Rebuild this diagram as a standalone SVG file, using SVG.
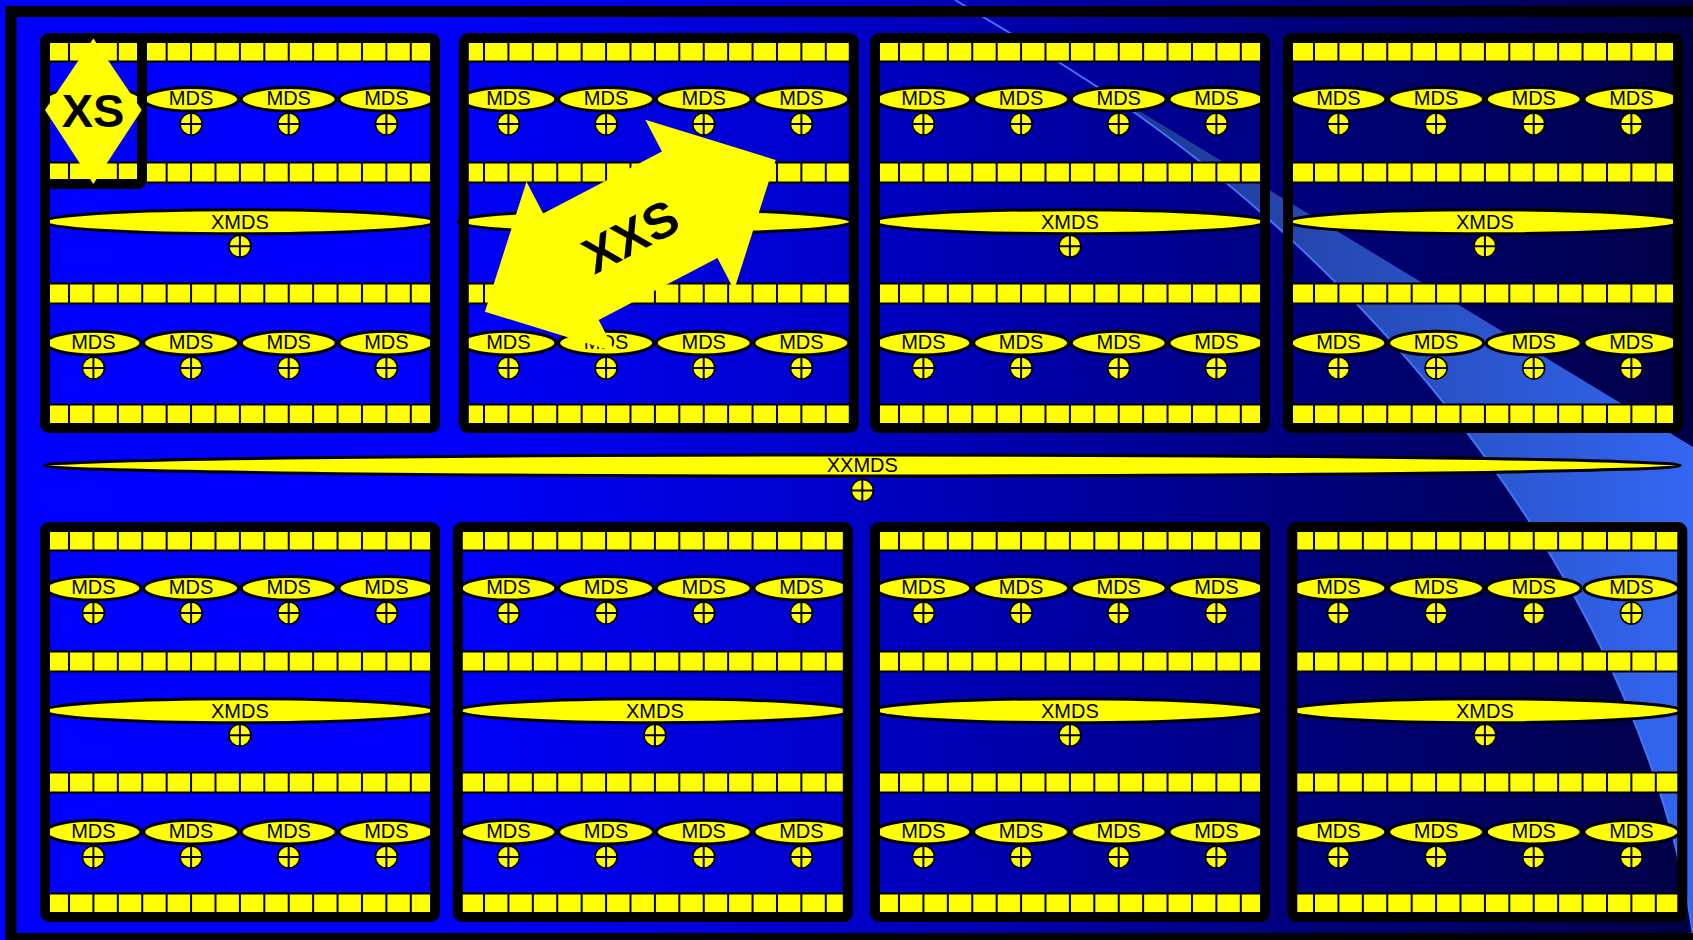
<svg xmlns="http://www.w3.org/2000/svg" xmlns:xlink="http://www.w3.org/1999/xlink" width="1693" height="940" viewBox="0 0 1693 940">
<defs>
<linearGradient id="bg" gradientUnits="userSpaceOnUse" x1="0" y1="0" x2="1693" y2="0">
<stop offset="0" stop-color="#0000FF"/><stop offset="0.27" stop-color="#0000FA"/><stop offset="0.5" stop-color="#0000C8"/><stop offset="0.75" stop-color="#000080"/><stop offset="1" stop-color="#000045"/>
</linearGradient>
<linearGradient id="band" gradientUnits="userSpaceOnUse" x1="1150" y1="0" x2="1693" y2="0">
<stop offset="0" stop-color="#1F3A95"/><stop offset="1" stop-color="#3366F2"/>
</linearGradient>
<pattern id="sq" patternUnits="userSpaceOnUse" x="44.6" y="0" width="24.412" height="940">
<rect width="24.412" height="940" fill="#FFFF00"/><rect x="0" width="1" height="940" fill="#000"/><rect x="23.412" width="1" height="940" fill="#000"/>
</pattern>
<style>
.strip{fill:url(#sq);stroke:#000;stroke-width:2}
.mds{fill:#FFFF00;stroke:#000;stroke-width:3}
.border{fill:none;stroke:#000;stroke-width:10}
.t{font-family:"Liberation Sans",Arial,sans-serif;font-size:20px;text-anchor:middle;fill:#000}
.b{font-family:"Liberation Sans",Arial,sans-serif;font-weight:bold;text-anchor:middle;fill:#000}
.crc{fill:#FFFF00;stroke:#000;stroke-width:1.5}
.crl{stroke:#000;stroke-width:2;fill:none}
</style>
<ellipse id="me" rx="47.5" ry="11.8" class="mds"/>
<ellipse id="xe" rx="197" ry="12" class="mds"/>
<g id="cr"><circle r="11" class="crc"/><path d="M0,-11.5V11.5M-11,0H11" class="crl"/></g>
</defs>

<g id="background">
<rect width="1693" height="940" fill="url(#bg)"/>
<path d="M1060,63 C1400,275 1648,618 1693,935 L1693,447 Z" fill="url(#band)"/>
<path d="M955,0 L1060,63 C1400,275 1648,618 1693,935" fill="none" stroke="#4076FF" stroke-width="2"/>
<rect x="11" y="11.5" width="1710" height="927" fill="none" stroke="#000" stroke-width="11"/>
</g>

<g id="connectors"/>

<g id="module-1">
<rect class="strip" x="45" y="41.5" width="390" height="20"/><rect class="strip" x="45" y="162.5" width="390" height="20"/><rect class="strip" x="45" y="283.5" width="390" height="20"/><rect class="strip" x="45" y="404.5" width="390" height="20"/>
<use href="#me" x="93.4" y="99.3"/><use href="#me" x="191.1" y="99.3"/><use href="#me" x="288.7" y="99.3"/><use href="#me" x="386.4" y="99.3"/>
<text class="t" x="191.1" y="105.3">MDS</text><text class="t" x="288.7" y="105.3">MDS</text><text class="t" x="386.4" y="105.3">MDS</text>
<use href="#cr" x="93.4" y="124.1"/><use href="#cr" x="191.1" y="124.1"/><use href="#cr" x="288.7" y="124.1"/><use href="#cr" x="386.4" y="124.1"/>
<use href="#xe" x="239.9" y="221.7"/><text class="t" x="239.9" y="228.7">XMDS</text><use href="#cr" x="239.9" y="246.2"/>
<use href="#me" x="93.4" y="343.1"/><use href="#me" x="191.1" y="343.1"/><use href="#me" x="288.7" y="343.1"/><use href="#me" x="386.4" y="343.1"/>
<text class="t" x="93.4" y="349.1">MDS</text><text class="t" x="191.1" y="349.1">MDS</text><text class="t" x="288.7" y="349.1">MDS</text><text class="t" x="386.4" y="349.1">MDS</text>
<use href="#cr" x="93.4" y="367.9"/><use href="#cr" x="191.1" y="367.9"/><use href="#cr" x="288.7" y="367.9"/><use href="#cr" x="386.4" y="367.9"/>
<rect class="border" x="45" y="38" width="390" height="390" rx="4"/>
</g>

<g id="module-2">
<rect class="strip" x="463.8" y="41.5" width="390" height="20"/><rect class="strip" x="463.8" y="162.5" width="390" height="20"/><rect class="strip" x="463.8" y="283.5" width="390" height="20"/><rect class="strip" x="463.8" y="404.5" width="390" height="20"/>
<use href="#me" x="508.4" y="99.3"/><use href="#me" x="606.1" y="99.3"/><use href="#me" x="703.7" y="99.3"/><use href="#me" x="801.4" y="99.3"/>
<text class="t" x="508.4" y="105.3">MDS</text><text class="t" x="606.1" y="105.3">MDS</text><text class="t" x="703.7" y="105.3">MDS</text><text class="t" x="801.4" y="105.3">MDS</text>
<use href="#cr" x="508.4" y="124.1"/><use href="#cr" x="606.1" y="124.1"/><use href="#cr" x="703.7" y="124.1"/><use href="#cr" x="801.4" y="124.1"/>
<use href="#xe" x="654.9" y="221.7"/><text class="t" x="654.9" y="228.7">XMDS</text><use href="#cr" x="654.9" y="246.2"/>
<use href="#me" x="508.4" y="343.1"/><use href="#me" x="606.1" y="343.1"/><use href="#me" x="703.7" y="343.1"/><use href="#me" x="801.4" y="343.1"/>
<text class="t" x="508.4" y="349.1">MDS</text><text class="t" x="606.1" y="349.1">MDS</text><text class="t" x="703.7" y="349.1">MDS</text><text class="t" x="801.4" y="349.1">MDS</text>
<use href="#cr" x="508.4" y="367.9"/><use href="#cr" x="606.1" y="367.9"/><use href="#cr" x="703.7" y="367.9"/><use href="#cr" x="801.4" y="367.9"/>
<rect class="border" x="463.8" y="38" width="390" height="390" rx="4"/>
</g>

<g id="module-3">
<rect class="strip" x="875" y="41.5" width="390" height="20"/><rect class="strip" x="875" y="162.5" width="390" height="20"/><rect class="strip" x="875" y="283.5" width="390" height="20"/><rect class="strip" x="875" y="404.5" width="390" height="20"/>
<use href="#me" x="923.4" y="99.3"/><use href="#me" x="1021.1" y="99.3"/><use href="#me" x="1118.7" y="99.3"/><use href="#me" x="1216.4" y="99.3"/>
<text class="t" x="923.4" y="105.3">MDS</text><text class="t" x="1021.1" y="105.3">MDS</text><text class="t" x="1118.7" y="105.3">MDS</text><text class="t" x="1216.4" y="105.3">MDS</text>
<use href="#cr" x="923.4" y="124.1"/><use href="#cr" x="1021.1" y="124.1"/><use href="#cr" x="1118.7" y="124.1"/><use href="#cr" x="1216.4" y="124.1"/>
<use href="#xe" x="1069.9" y="221.7"/><text class="t" x="1069.9" y="228.7">XMDS</text><use href="#cr" x="1069.9" y="246.2"/>
<use href="#me" x="923.4" y="343.1"/><use href="#me" x="1021.1" y="343.1"/><use href="#me" x="1118.7" y="343.1"/><use href="#me" x="1216.4" y="343.1"/>
<text class="t" x="923.4" y="349.1">MDS</text><text class="t" x="1021.1" y="349.1">MDS</text><text class="t" x="1118.7" y="349.1">MDS</text><text class="t" x="1216.4" y="349.1">MDS</text>
<use href="#cr" x="923.4" y="367.9"/><use href="#cr" x="1021.1" y="367.9"/><use href="#cr" x="1118.7" y="367.9"/><use href="#cr" x="1216.4" y="367.9"/>
<rect class="border" x="875" y="38" width="390" height="390" rx="4"/>
</g>

<g id="module-4">
<rect class="strip" x="1288" y="41.5" width="390" height="20"/><rect class="strip" x="1288" y="162.5" width="390" height="20"/><rect class="strip" x="1288" y="283.5" width="390" height="20"/><rect class="strip" x="1288" y="404.5" width="390" height="20"/>
<use href="#me" x="1338.4" y="99.3"/><use href="#me" x="1436.1" y="99.3"/><use href="#me" x="1533.7" y="99.3"/><use href="#me" x="1631.4" y="99.3"/>
<text class="t" x="1338.4" y="105.3">MDS</text><text class="t" x="1436.1" y="105.3">MDS</text><text class="t" x="1533.7" y="105.3">MDS</text><text class="t" x="1631.4" y="105.3">MDS</text>
<use href="#cr" x="1338.4" y="124.1"/><use href="#cr" x="1436.1" y="124.1"/><use href="#cr" x="1533.7" y="124.1"/><use href="#cr" x="1631.4" y="124.1"/>
<use href="#xe" x="1484.9" y="221.7"/><text class="t" x="1484.9" y="228.7">XMDS</text><use href="#cr" x="1484.9" y="246.2"/>
<use href="#me" x="1338.4" y="343.1"/><use href="#me" x="1436.1" y="343.1"/><use href="#me" x="1533.7" y="343.1"/><use href="#me" x="1631.4" y="343.1"/>
<text class="t" x="1338.4" y="349.1">MDS</text><text class="t" x="1436.1" y="349.1">MDS</text><text class="t" x="1533.7" y="349.1">MDS</text><text class="t" x="1631.4" y="349.1">MDS</text>
<use href="#cr" x="1338.4" y="367.9"/><use href="#cr" x="1436.1" y="367.9"/><use href="#cr" x="1533.7" y="367.9"/><use href="#cr" x="1631.4" y="367.9"/>
<rect class="border" x="1288" y="38" width="390" height="390" rx="4"/>
</g>

<g id="module-5">
<rect class="strip" x="45" y="530.5" width="390" height="20"/><rect class="strip" x="45" y="651.5" width="390" height="20"/><rect class="strip" x="45" y="772.5" width="390" height="20"/><rect class="strip" x="45" y="893.5" width="390" height="20"/>
<use href="#me" x="93.4" y="588.3"/><use href="#me" x="191.1" y="588.3"/><use href="#me" x="288.7" y="588.3"/><use href="#me" x="386.4" y="588.3"/>
<text class="t" x="93.4" y="594.3">MDS</text><text class="t" x="191.1" y="594.3">MDS</text><text class="t" x="288.7" y="594.3">MDS</text><text class="t" x="386.4" y="594.3">MDS</text>
<use href="#cr" x="93.4" y="613.1"/><use href="#cr" x="191.1" y="613.1"/><use href="#cr" x="288.7" y="613.1"/><use href="#cr" x="386.4" y="613.1"/>
<use href="#xe" x="239.9" y="710.7"/><text class="t" x="239.9" y="717.7">XMDS</text><use href="#cr" x="239.9" y="735.2"/>
<use href="#me" x="93.4" y="832.1"/><use href="#me" x="191.1" y="832.1"/><use href="#me" x="288.7" y="832.1"/><use href="#me" x="386.4" y="832.1"/>
<text class="t" x="93.4" y="838.1">MDS</text><text class="t" x="191.1" y="838.1">MDS</text><text class="t" x="288.7" y="838.1">MDS</text><text class="t" x="386.4" y="838.1">MDS</text>
<use href="#cr" x="93.4" y="856.9"/><use href="#cr" x="191.1" y="856.9"/><use href="#cr" x="288.7" y="856.9"/><use href="#cr" x="386.4" y="856.9"/>
<rect class="border" x="45" y="527" width="390" height="390" rx="4"/>
</g>

<g id="module-6">
<rect class="strip" x="457.8" y="530.5" width="390" height="20"/><rect class="strip" x="457.8" y="651.5" width="390" height="20"/><rect class="strip" x="457.8" y="772.5" width="390" height="20"/><rect class="strip" x="457.8" y="893.5" width="390" height="20"/>
<use href="#me" x="508.4" y="588.3"/><use href="#me" x="606.1" y="588.3"/><use href="#me" x="703.7" y="588.3"/><use href="#me" x="801.4" y="588.3"/>
<text class="t" x="508.4" y="594.3">MDS</text><text class="t" x="606.1" y="594.3">MDS</text><text class="t" x="703.7" y="594.3">MDS</text><text class="t" x="801.4" y="594.3">MDS</text>
<use href="#cr" x="508.4" y="613.1"/><use href="#cr" x="606.1" y="613.1"/><use href="#cr" x="703.7" y="613.1"/><use href="#cr" x="801.4" y="613.1"/>
<use href="#xe" x="654.9" y="710.7"/><text class="t" x="654.9" y="717.7">XMDS</text><use href="#cr" x="654.9" y="735.2"/>
<use href="#me" x="508.4" y="832.1"/><use href="#me" x="606.1" y="832.1"/><use href="#me" x="703.7" y="832.1"/><use href="#me" x="801.4" y="832.1"/>
<text class="t" x="508.4" y="838.1">MDS</text><text class="t" x="606.1" y="838.1">MDS</text><text class="t" x="703.7" y="838.1">MDS</text><text class="t" x="801.4" y="838.1">MDS</text>
<use href="#cr" x="508.4" y="856.9"/><use href="#cr" x="606.1" y="856.9"/><use href="#cr" x="703.7" y="856.9"/><use href="#cr" x="801.4" y="856.9"/>
<rect class="border" x="457.8" y="527" width="390" height="390" rx="4"/>
</g>

<g id="module-7">
<rect class="strip" x="875" y="530.5" width="390" height="20"/><rect class="strip" x="875" y="651.5" width="390" height="20"/><rect class="strip" x="875" y="772.5" width="390" height="20"/><rect class="strip" x="875" y="893.5" width="390" height="20"/>
<use href="#me" x="923.4" y="588.3"/><use href="#me" x="1021.1" y="588.3"/><use href="#me" x="1118.7" y="588.3"/><use href="#me" x="1216.4" y="588.3"/>
<text class="t" x="923.4" y="594.3">MDS</text><text class="t" x="1021.1" y="594.3">MDS</text><text class="t" x="1118.7" y="594.3">MDS</text><text class="t" x="1216.4" y="594.3">MDS</text>
<use href="#cr" x="923.4" y="613.1"/><use href="#cr" x="1021.1" y="613.1"/><use href="#cr" x="1118.7" y="613.1"/><use href="#cr" x="1216.4" y="613.1"/>
<use href="#xe" x="1069.9" y="710.7"/><text class="t" x="1069.9" y="717.7">XMDS</text><use href="#cr" x="1069.9" y="735.2"/>
<use href="#me" x="923.4" y="832.1"/><use href="#me" x="1021.1" y="832.1"/><use href="#me" x="1118.7" y="832.1"/><use href="#me" x="1216.4" y="832.1"/>
<text class="t" x="923.4" y="838.1">MDS</text><text class="t" x="1021.1" y="838.1">MDS</text><text class="t" x="1118.7" y="838.1">MDS</text><text class="t" x="1216.4" y="838.1">MDS</text>
<use href="#cr" x="923.4" y="856.9"/><use href="#cr" x="1021.1" y="856.9"/><use href="#cr" x="1118.7" y="856.9"/><use href="#cr" x="1216.4" y="856.9"/>
<rect class="border" x="875" y="527" width="390" height="390" rx="4"/>
</g>

<g id="module-8">
<rect class="strip" x="1292.3" y="530.5" width="390" height="20"/><rect class="strip" x="1292.3" y="651.5" width="390" height="20"/><rect class="strip" x="1292.3" y="772.5" width="390" height="20"/><rect class="strip" x="1292.3" y="893.5" width="390" height="20"/>
<use href="#me" x="1338.4" y="588.3"/><use href="#me" x="1436.1" y="588.3"/><use href="#me" x="1533.7" y="588.3"/><use href="#me" x="1631.4" y="588.3"/>
<text class="t" x="1338.4" y="594.3">MDS</text><text class="t" x="1436.1" y="594.3">MDS</text><text class="t" x="1533.7" y="594.3">MDS</text><text class="t" x="1631.4" y="594.3">MDS</text>
<use href="#cr" x="1338.4" y="613.1"/><use href="#cr" x="1436.1" y="613.1"/><use href="#cr" x="1533.7" y="613.1"/><use href="#cr" x="1631.4" y="613.1"/>
<use href="#xe" x="1484.9" y="710.7"/><text class="t" x="1484.9" y="717.7">XMDS</text><use href="#cr" x="1484.9" y="735.2"/>
<use href="#me" x="1338.4" y="832.1"/><use href="#me" x="1436.1" y="832.1"/><use href="#me" x="1533.7" y="832.1"/><use href="#me" x="1631.4" y="832.1"/>
<text class="t" x="1338.4" y="838.1">MDS</text><text class="t" x="1436.1" y="838.1">MDS</text><text class="t" x="1533.7" y="838.1">MDS</text><text class="t" x="1631.4" y="838.1">MDS</text>
<use href="#cr" x="1338.4" y="856.9"/><use href="#cr" x="1436.1" y="856.9"/><use href="#cr" x="1533.7" y="856.9"/><use href="#cr" x="1631.4" y="856.9"/>
<rect class="border" x="1292.3" y="527" width="390" height="390" rx="4"/>
</g>

<g id="xxmds">
<ellipse cx="862.3" cy="465.5" rx="818" ry="10.5" class="mds"/>
<text class="t" x="862.3" y="472">XXMDS</text>
<use href="#cr" x="862.3" y="490.5"/>
</g>

<g id="xs">
<rect x="45" y="38" width="97" height="146" rx="4" class="border"/>
<polygon points="93.3,38.5 141.7,110 93.3,184 45,110" fill="#FFFF00"/>
<text class="b" x="93" y="127" font-size="47">XS</text>
</g>

<g id="xxs" transform="translate(630.3,235.8) rotate(-27.55)">
<polygon points="164,0 67,-96 67,-60 -67,-60 -67,-96 -164,0 -67,96 -67,60 67,60 67,96" fill="#FFFF00"/>
<text class="b" x="0" y="18" font-size="50">XXS</text>
</g>
</svg>
